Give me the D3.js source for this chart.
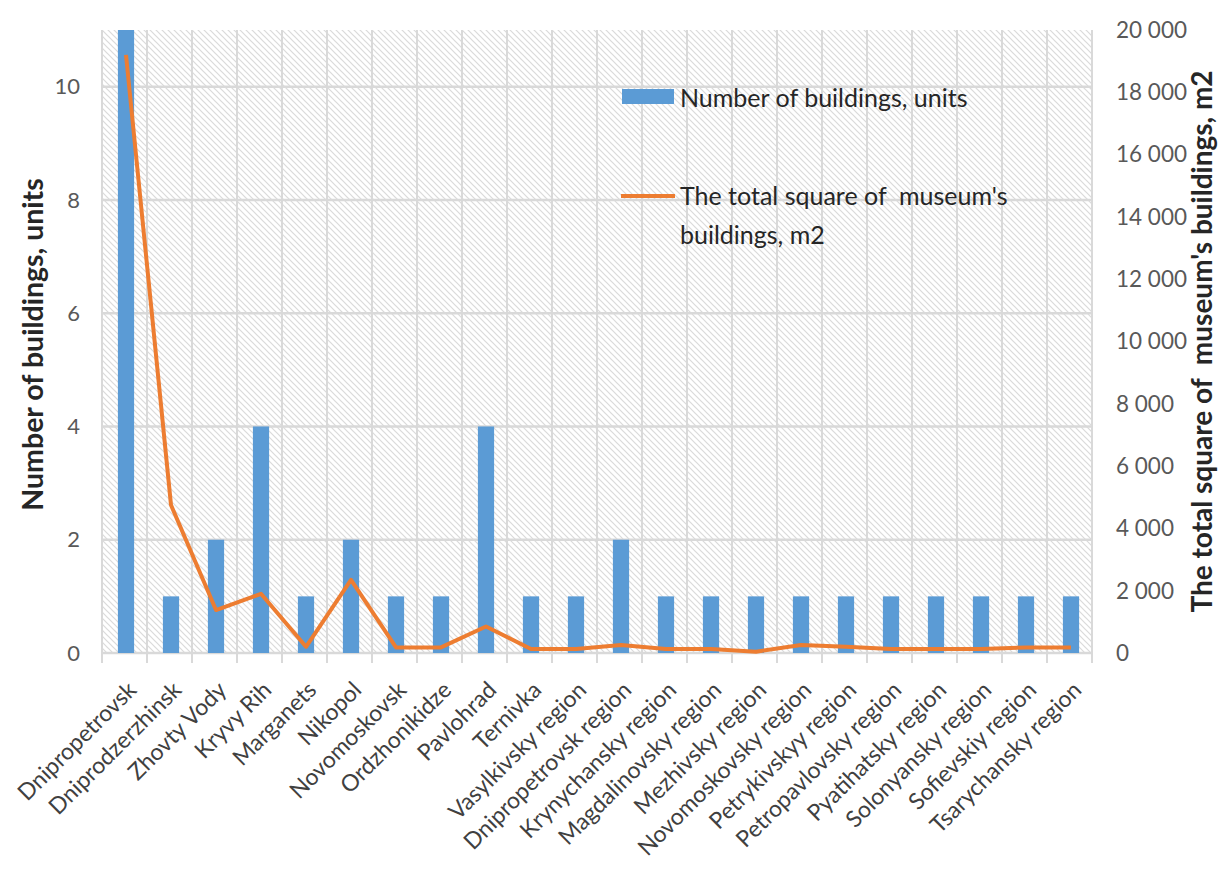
<!DOCTYPE html>
<html>
<head>
<meta charset="utf-8">
<script src="https://cdn.jsdelivr.net/npm/d3@7"></script>
<style>
body { margin: 0; background: #fff; }
text { font-family: Lato, "Open Sans", sans-serif; }
</style>
</head>
<body>
<div id="chart"></div>
<script>
var categories = ["Dnipropetrovsk", "Dniprodzerzhinsk", "Zhovty Vody", "Kryvy Rih", "Marganets",
  "Nikopol", "Novomoskovsk", "Ordzhonikidze", "Pavlohrad", "Ternivka", "Vasylkivsky region",
  "Dnipropetrovsk region", "Krynychansky region", "Magdalinovsky region", "Mezhivsky region",
  "Novomoskovsky region", "Petrykivskyy region", "Petropavlovsky region", "Pyatihatsky region",
  "Solonyansky region", "Sofievskiy region", "Tsarychansky region"]
var buildings = [11, 1, 2, 4, 1, 2, 1, 1, 4, 1, 1, 2, 1, 1, 1, 1, 1, 1, 1, 1, 1, 1]
var square = [19200, 4750, 1380, 1900, 200, 2350, 180, 180, 850, 130, 130, 260, 130, 130, 40,
  260, 200, 130, 130, 130, 180, 180]
var leftTicks = [0, 2, 4, 6, 8, 10]
var rightTicks = d3.range(0, 20001, 2000)
var seriesNames = ["Number of buildings, units", "The total square of  museum's", "buildings, m2"]

var w = 1222
var h = 872
var margin = {top: 30, right: 130, bottom: 219, left: 102}
var width = w - margin.left - margin.right
var height = h - margin.top - margin.bottom

var x = d3.scaleBand().domain(categories).range([0, width]).padding(0)
var yL = d3.scaleLinear().domain([0, 11]).range([height, 0])
var yR = d3.scaleLinear().domain([0, 20000]).range([height, 0])
var fmt = d => d3.format(",")(d).replace(",", " ")

var svg = d3.select("#chart").append("svg")
  .attr("width", w)
  .attr("height", h)

// diagonal hatch for the plot area
var pat = svg.append("defs").append("pattern")
  .attr("id", "hatch")
  .attr("patternUnits", "userSpaceOnUse")
  .attr("width", 6)
  .attr("height", 6)
pat.append("rect").attr("width", 6).attr("height", 6).attr("fill", "#fff")
pat.append("path")
  .attr("d", "M0,0L6,6M-1,5L1,7M5,-1L7,1")
  .attr("stroke", "#dadada")
  .attr("stroke-width", 1.2)

var g = svg.append("g")
  .attr("transform", "translate(" + margin.left + "," + margin.top + ")")

g.append("rect")
  .attr("width", width)
  .attr("height", height)
  .attr("fill", "url(#hatch)")

// grid
g.append("g").selectAll("line").data(leftTicks.slice(1))
  .join("line")
  .attr("x1", 0).attr("x2", width)
  .attr("y1", d => yL(d)).attr("y2", d => yL(d))
  .attr("stroke", "#d9d9d9").attr("stroke-width", 2.5)

var bounds = categories.map(c => x(c)).concat([width])
g.append("g").selectAll("line").data(bounds)
  .join("line")
  .attr("x1", d => d).attr("x2", d => d)
  .attr("y1", 0).attr("y2", height + 10)
  .attr("stroke", "#d9d9d9").attr("stroke-width", 2)

g.append("line")
  .attr("x1", 0).attr("x2", width)
  .attr("y1", height).attr("y2", height)
  .attr("stroke", "#d9d9d9").attr("stroke-width", 2.5)

// bars
var bw = x.bandwidth() * 0.36
g.append("g").selectAll("rect").data(buildings)
  .join("rect")
  .attr("x", (d, i) => x(categories[i]) + x.bandwidth() / 2 - bw / 2 + 1.5)
  .attr("width", bw)
  .attr("y", d => yL(d))
  .attr("height", d => height - yL(d))
  .attr("fill", "#5b9bd5")

// line
var line = d3.line()
  .x((d, i) => x(categories[i]) + x.bandwidth() / 2 + 1.5)
  .y(d => yR(d))
g.append("path")
  .datum(square)
  .attr("d", line)
  .attr("fill", "none")
  .attr("stroke", "#ed7d31")
  .attr("stroke-width", 4)
  .attr("stroke-linejoin", "round")

// axes labels
g.append("g").selectAll("text").data(leftTicks)
  .join("text")
  .attr("x", -22)
  .attr("y", d => yL(d))
  .attr("dy", "0.35em")
  .attr("text-anchor", "end")
  .attr("font-size", 22)
  .attr("fill", "#595959")
  .text(d => d)

g.append("g").selectAll("text").data(rightTicks)
  .join("text")
  .attr("x", width + 24)
  .attr("y", d => yR(d))
  .attr("dy", "0.35em")
  .attr("font-size", 22.5)
  .attr("fill", "#595959")
  .text(fmt)

g.append("g").selectAll("text").data(categories)
  .join("text")
  .attr("transform", d => "translate(" + (x(d) + x.bandwidth() / 2 + 2) + "," + (height + 27) + ") rotate(-45)")
  .attr("dy", "0.7em")
  .attr("text-anchor", "end")
  .attr("font-size", 23)
  .attr("fill", "#404040")
  .text(d => d)

svg.append("text")
  .attr("transform", "translate(43," + (margin.top + height / 2 + 3) + ") rotate(-90)")
  .attr("text-anchor", "middle")
  .attr("font-size", 28.5)
  .attr("font-weight", "bold")
  .attr("fill", "#262626")
  .text("Number of buildings, units")

svg.append("text")
  .attr("transform", "translate(1212," + (margin.top + height / 2 + 0) + ") rotate(-90)")
  .attr("text-anchor", "middle")
  .attr("font-size", 28)
  .attr("font-weight", "bold")
  .attr("fill", "#262626")
  .style("white-space", "pre")
  .text("The total square of  museum's buildings, m2")

// legend
var leg = svg.append("g")
leg.append("rect")
  .attr("x", 622).attr("y", 89)
  .attr("width", 52).attr("height", 15)
  .attr("fill", "#5b9bd5")
leg.append("text")
  .attr("x", 680).attr("y", 107)
  .attr("font-size", 25)
  .attr("fill", "#262626")
  .text(seriesNames[0])
leg.append("line")
  .attr("x1", 621).attr("x2", 675)
  .attr("y1", 196).attr("y2", 196)
  .attr("stroke", "#ed7d31")
  .attr("stroke-width", 4)
leg.append("text")
  .attr("x", 680).attr("y", 205)
  .attr("font-size", 25)
  .attr("fill", "#262626")
  .style("white-space", "pre")
  .text(seriesNames[1])
leg.append("text")
  .attr("x", 680).attr("y", 244)
  .attr("font-size", 25)
  .attr("fill", "#262626")
  .text(seriesNames[2])
</script>
</body>
</html>
